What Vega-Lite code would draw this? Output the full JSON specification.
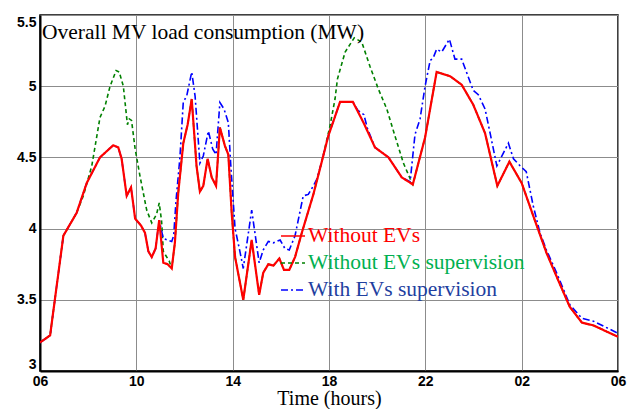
{
  "$schema": "https://vega.github.io/schema/vega-lite/v6.json",
  "width": 578,
  "height": 356,
  "autosize": {"type": "none"},
  "padding": {"left": 40, "top": 15, "right": 12, "bottom": 38},
  "background": "white",
  "config": {
    "view": {"stroke": "#000", "strokeWidth": 1.5},
    "axis": {
      "grid": true,
      "gridColor": "#8c8c8c",
      "gridWidth": 1,
      "domainColor": "#000",
      "domainWidth": 2,
      "ticks": false,
      "labelFont": "Liberation Sans Narrow, Liberation Sans",
      "labelFontWeight": "bold",
      "labelFontSize": 14,
      "labelColor": "#000"
    }
  },
  "title": {
    "text": "Overall MV load consumption (MW)",
    "anchor": "start",
    "frame": "group",
    "orient": "top",
    "offset": -28,
    "dx": 2,
    "font": "Liberation Serif",
    "fontSize": 21.5,
    "fontWeight": "normal",
    "color": "#000"
  },
  "datasets": {
    "red": [
      {"t": 6.0, "v": 3.20, "series": "Without EVs"},
      {"t": 6.42, "v": 3.25, "series": "Without EVs"},
      {"t": 6.97, "v": 3.95, "series": "Without EVs"},
      {"t": 7.52, "v": 4.11, "series": "Without EVs"},
      {"t": 7.94, "v": 4.32, "series": "Without EVs"},
      {"t": 8.49, "v": 4.50, "series": "Without EVs"},
      {"t": 9.04, "v": 4.585, "series": "Without EVs"},
      {"t": 9.25, "v": 4.57, "series": "Without EVs"},
      {"t": 9.39, "v": 4.49, "series": "Without EVs"},
      {"t": 9.6, "v": 4.23, "series": "Without EVs"},
      {"t": 9.78, "v": 4.29, "series": "Without EVs"},
      {"t": 9.95, "v": 4.07, "series": "Without EVs"},
      {"t": 10.2, "v": 4.02, "series": "Without EVs"},
      {"t": 10.36, "v": 3.97, "series": "Without EVs"},
      {"t": 10.5, "v": 3.84, "series": "Without EVs"},
      {"t": 10.64, "v": 3.80, "series": "Without EVs"},
      {"t": 10.8, "v": 3.86, "series": "Without EVs"},
      {"t": 10.95, "v": 4.06, "series": "Without EVs"},
      {"t": 11.12, "v": 3.76, "series": "Without EVs"},
      {"t": 11.3, "v": 3.75, "series": "Without EVs"},
      {"t": 11.47, "v": 3.72, "series": "Without EVs"},
      {"t": 11.6, "v": 3.90, "series": "Without EVs"},
      {"t": 11.74, "v": 4.25, "series": "Without EVs"},
      {"t": 11.95, "v": 4.60, "series": "Without EVs"},
      {"t": 12.13, "v": 4.73, "series": "Without EVs"},
      {"t": 12.3, "v": 4.91, "series": "Without EVs"},
      {"t": 12.5, "v": 4.44, "series": "Without EVs"},
      {"t": 12.64, "v": 4.26, "series": "Without EVs"},
      {"t": 12.78, "v": 4.30, "series": "Without EVs"},
      {"t": 12.96, "v": 4.49, "series": "Without EVs"},
      {"t": 13.13, "v": 4.36, "series": "Without EVs"},
      {"t": 13.31, "v": 4.30, "series": "Without EVs"},
      {"t": 13.47, "v": 4.71, "series": "Without EVs"},
      {"t": 13.68, "v": 4.58, "series": "Without EVs"},
      {"t": 13.82, "v": 4.52, "series": "Without EVs"},
      {"t": 13.96, "v": 4.11, "series": "Without EVs"},
      {"t": 14.1, "v": 3.80, "series": "Without EVs"},
      {"t": 14.44, "v": 3.50, "series": "Without EVs"},
      {"t": 14.79, "v": 3.92, "series": "Without EVs"},
      {"t": 15.1, "v": 3.535, "series": "Without EVs"},
      {"t": 15.27, "v": 3.69, "series": "Without EVs"},
      {"t": 15.48, "v": 3.75, "series": "Without EVs"},
      {"t": 15.69, "v": 3.74, "series": "Without EVs"},
      {"t": 15.94, "v": 3.79, "series": "Without EVs"},
      {"t": 16.13, "v": 3.71, "series": "Without EVs"},
      {"t": 16.35, "v": 3.71, "series": "Without EVs"},
      {"t": 16.59, "v": 3.80, "series": "Without EVs"},
      {"t": 16.87, "v": 3.97, "series": "Without EVs"},
      {"t": 17.35, "v": 4.24, "series": "Without EVs"},
      {"t": 17.7, "v": 4.47, "series": "Without EVs"},
      {"t": 17.97, "v": 4.65, "series": "Without EVs"},
      {"t": 18.46, "v": 4.89, "series": "Without EVs"},
      {"t": 18.99, "v": 4.89, "series": "Without EVs"},
      {"t": 19.43, "v": 4.745, "series": "Without EVs"},
      {"t": 19.91, "v": 4.57, "series": "Without EVs"},
      {"t": 20.47, "v": 4.50, "series": "Without EVs"},
      {"t": 21.02, "v": 4.36, "series": "Without EVs"},
      {"t": 21.48, "v": 4.31, "series": "Without EVs"},
      {"t": 21.99, "v": 4.64, "series": "Without EVs"},
      {"t": 22.47, "v": 5.10, "series": "Without EVs"},
      {"t": 23.03, "v": 5.07, "series": "Without EVs"},
      {"t": 23.51, "v": 5.01, "series": "Without EVs"},
      {"t": 23.99, "v": 4.87, "series": "Without EVs"},
      {"t": 24.48, "v": 4.67, "series": "Without EVs"},
      {"t": 24.99, "v": 4.30, "series": "Without EVs"},
      {"t": 25.49, "v": 4.47, "series": "Without EVs"},
      {"t": 26.0, "v": 4.32, "series": "Without EVs"},
      {"t": 26.48, "v": 4.09, "series": "Without EVs"},
      {"t": 27.03, "v": 3.83, "series": "Without EVs"},
      {"t": 27.51, "v": 3.64, "series": "Without EVs"},
      {"t": 28.0, "v": 3.45, "series": "Without EVs"},
      {"t": 28.5, "v": 3.34, "series": "Without EVs"},
      {"t": 28.98, "v": 3.32, "series": "Without EVs"},
      {"t": 30.0, "v": 3.24, "series": "Without EVs"}
    ],
    "green": [
      {"t": 6.0, "v": 3.20, "series": "Without EVs supervision"},
      {"t": 6.42, "v": 3.25, "series": "Without EVs supervision"},
      {"t": 6.97, "v": 3.95, "series": "Without EVs supervision"},
      {"t": 7.52, "v": 4.11, "series": "Without EVs supervision"},
      {"t": 7.8, "v": 4.23, "series": "Without EVs supervision"},
      {"t": 8.15, "v": 4.44, "series": "Without EVs supervision"},
      {"t": 8.49, "v": 4.78, "series": "Without EVs supervision"},
      {"t": 8.7, "v": 4.86, "series": "Without EVs supervision"},
      {"t": 8.91, "v": 5.00, "series": "Without EVs supervision"},
      {"t": 9.16, "v": 5.11, "series": "Without EVs supervision"},
      {"t": 9.29, "v": 5.10, "series": "Without EVs supervision"},
      {"t": 9.46, "v": 5.00, "series": "Without EVs supervision"},
      {"t": 9.63, "v": 4.73, "series": "Without EVs supervision"},
      {"t": 9.71, "v": 4.77, "series": "Without EVs supervision"},
      {"t": 9.8, "v": 4.76, "series": "Without EVs supervision"},
      {"t": 9.95, "v": 4.56, "series": "Without EVs supervision"},
      {"t": 10.15, "v": 4.37, "series": "Without EVs supervision"},
      {"t": 10.43, "v": 4.13, "series": "Without EVs supervision"},
      {"t": 10.64, "v": 4.04, "series": "Without EVs supervision"},
      {"t": 10.84, "v": 4.10, "series": "Without EVs supervision"},
      {"t": 10.95, "v": 4.18, "series": "Without EVs supervision"},
      {"t": 11.05, "v": 4.05, "series": "Without EVs supervision"},
      {"t": 11.12, "v": 3.84, "series": "Without EVs supervision"},
      {"t": 11.37, "v": 3.77, "series": "Without EVs supervision"},
      {"t": 11.47, "v": 3.72, "series": "Without EVs supervision"},
      {"t": 11.6, "v": 3.90, "series": "Without EVs supervision"},
      {"t": 11.74, "v": 4.25, "series": "Without EVs supervision"},
      {"t": 11.95, "v": 4.60, "series": "Without EVs supervision"},
      {"t": 12.13, "v": 4.73, "series": "Without EVs supervision"},
      {"t": 12.3, "v": 4.91, "series": "Without EVs supervision"},
      {"t": 12.5, "v": 4.44, "series": "Without EVs supervision"},
      {"t": 12.64, "v": 4.26, "series": "Without EVs supervision"},
      {"t": 12.78, "v": 4.30, "series": "Without EVs supervision"},
      {"t": 12.96, "v": 4.49, "series": "Without EVs supervision"},
      {"t": 13.13, "v": 4.36, "series": "Without EVs supervision"},
      {"t": 13.31, "v": 4.30, "series": "Without EVs supervision"},
      {"t": 13.47, "v": 4.71, "series": "Without EVs supervision"},
      {"t": 13.68, "v": 4.58, "series": "Without EVs supervision"},
      {"t": 13.82, "v": 4.52, "series": "Without EVs supervision"},
      {"t": 13.96, "v": 4.11, "series": "Without EVs supervision"},
      {"t": 14.1, "v": 3.80, "series": "Without EVs supervision"},
      {"t": 14.44, "v": 3.50, "series": "Without EVs supervision"},
      {"t": 14.79, "v": 3.92, "series": "Without EVs supervision"},
      {"t": 15.1, "v": 3.535, "series": "Without EVs supervision"},
      {"t": 15.27, "v": 3.69, "series": "Without EVs supervision"},
      {"t": 15.48, "v": 3.75, "series": "Without EVs supervision"},
      {"t": 15.69, "v": 3.74, "series": "Without EVs supervision"},
      {"t": 15.94, "v": 3.79, "series": "Without EVs supervision"},
      {"t": 16.13, "v": 3.71, "series": "Without EVs supervision"},
      {"t": 16.35, "v": 3.71, "series": "Without EVs supervision"},
      {"t": 16.59, "v": 3.80, "series": "Without EVs supervision"},
      {"t": 16.87, "v": 3.97, "series": "Without EVs supervision"},
      {"t": 17.35, "v": 4.24, "series": "Without EVs supervision"},
      {"t": 17.7, "v": 4.47, "series": "Without EVs supervision"},
      {"t": 18.04, "v": 4.72, "series": "Without EVs supervision"},
      {"t": 18.25, "v": 4.91, "series": "Without EVs supervision"},
      {"t": 18.35, "v": 5.05, "series": "Without EVs supervision"},
      {"t": 18.67, "v": 5.24, "series": "Without EVs supervision"},
      {"t": 19.05, "v": 5.34, "series": "Without EVs supervision"},
      {"t": 19.36, "v": 5.31, "series": "Without EVs supervision"},
      {"t": 19.7, "v": 5.14, "series": "Without EVs supervision"},
      {"t": 20.05, "v": 4.98, "series": "Without EVs supervision"},
      {"t": 20.4, "v": 4.84, "series": "Without EVs supervision"},
      {"t": 20.74, "v": 4.65, "series": "Without EVs supervision"},
      {"t": 21.09, "v": 4.46, "series": "Without EVs supervision"},
      {"t": 21.37, "v": 4.35, "series": "Without EVs supervision"},
      {"t": 21.48, "v": 4.31, "series": "Without EVs supervision"},
      {"t": 21.99, "v": 4.64, "series": "Without EVs supervision"},
      {"t": 22.47, "v": 5.10, "series": "Without EVs supervision"},
      {"t": 23.03, "v": 5.07, "series": "Without EVs supervision"},
      {"t": 23.51, "v": 5.01, "series": "Without EVs supervision"},
      {"t": 23.99, "v": 4.87, "series": "Without EVs supervision"},
      {"t": 24.48, "v": 4.67, "series": "Without EVs supervision"},
      {"t": 24.99, "v": 4.30, "series": "Without EVs supervision"},
      {"t": 25.49, "v": 4.47, "series": "Without EVs supervision"},
      {"t": 26.0, "v": 4.32, "series": "Without EVs supervision"},
      {"t": 26.48, "v": 4.09, "series": "Without EVs supervision"},
      {"t": 27.03, "v": 3.83, "series": "Without EVs supervision"},
      {"t": 27.51, "v": 3.64, "series": "Without EVs supervision"},
      {"t": 28.0, "v": 3.45, "series": "Without EVs supervision"},
      {"t": 28.5, "v": 3.34, "series": "Without EVs supervision"},
      {"t": 28.98, "v": 3.32, "series": "Without EVs supervision"},
      {"t": 30.0, "v": 3.24, "series": "Without EVs supervision"}
    ],
    "blue": [
      {"t": 6.0, "v": 3.20, "series": "With EVs supervision"},
      {"t": 6.42, "v": 3.25, "series": "With EVs supervision"},
      {"t": 6.97, "v": 3.95, "series": "With EVs supervision"},
      {"t": 7.52, "v": 4.11, "series": "With EVs supervision"},
      {"t": 7.94, "v": 4.32, "series": "With EVs supervision"},
      {"t": 8.49, "v": 4.50, "series": "With EVs supervision"},
      {"t": 9.04, "v": 4.585, "series": "With EVs supervision"},
      {"t": 9.25, "v": 4.57, "series": "With EVs supervision"},
      {"t": 9.39, "v": 4.49, "series": "With EVs supervision"},
      {"t": 9.6, "v": 4.23, "series": "With EVs supervision"},
      {"t": 9.78, "v": 4.29, "series": "With EVs supervision"},
      {"t": 9.95, "v": 4.07, "series": "With EVs supervision"},
      {"t": 10.2, "v": 4.02, "series": "With EVs supervision"},
      {"t": 10.36, "v": 3.97, "series": "With EVs supervision"},
      {"t": 10.5, "v": 3.84, "series": "With EVs supervision"},
      {"t": 10.64, "v": 3.80, "series": "With EVs supervision"},
      {"t": 10.8, "v": 3.86, "series": "With EVs supervision"},
      {"t": 10.95, "v": 4.06, "series": "With EVs supervision"},
      {"t": 11.12, "v": 3.93, "series": "With EVs supervision"},
      {"t": 11.29, "v": 3.92, "series": "With EVs supervision"},
      {"t": 11.47, "v": 3.91, "series": "With EVs supervision"},
      {"t": 11.55, "v": 3.95, "series": "With EVs supervision"},
      {"t": 11.65, "v": 4.20, "series": "With EVs supervision"},
      {"t": 11.81, "v": 4.50, "series": "With EVs supervision"},
      {"t": 11.95, "v": 4.89, "series": "With EVs supervision"},
      {"t": 12.09, "v": 4.93, "series": "With EVs supervision"},
      {"t": 12.3, "v": 5.10, "series": "With EVs supervision"},
      {"t": 12.44, "v": 4.93, "series": "With EVs supervision"},
      {"t": 12.64, "v": 4.46, "series": "With EVs supervision"},
      {"t": 12.78, "v": 4.51, "series": "With EVs supervision"},
      {"t": 12.99, "v": 4.685, "series": "With EVs supervision"},
      {"t": 13.17, "v": 4.56, "series": "With EVs supervision"},
      {"t": 13.31, "v": 4.52, "series": "With EVs supervision"},
      {"t": 13.47, "v": 4.885, "series": "With EVs supervision"},
      {"t": 13.64, "v": 4.84, "series": "With EVs supervision"},
      {"t": 13.82, "v": 4.745, "series": "With EVs supervision"},
      {"t": 13.92, "v": 4.45, "series": "With EVs supervision"},
      {"t": 14.1, "v": 4.00, "series": "With EVs supervision"},
      {"t": 14.3, "v": 3.84, "series": "With EVs supervision"},
      {"t": 14.44, "v": 3.72, "series": "With EVs supervision"},
      {"t": 14.79, "v": 4.13, "series": "With EVs supervision"},
      {"t": 15.1, "v": 3.76, "series": "With EVs supervision"},
      {"t": 15.27, "v": 3.85, "series": "With EVs supervision"},
      {"t": 15.48, "v": 3.91, "series": "With EVs supervision"},
      {"t": 15.69, "v": 3.90, "series": "With EVs supervision"},
      {"t": 15.97, "v": 3.92, "series": "With EVs supervision"},
      {"t": 16.17, "v": 3.86, "series": "With EVs supervision"},
      {"t": 16.35, "v": 3.85, "series": "With EVs supervision"},
      {"t": 16.59, "v": 3.95, "series": "With EVs supervision"},
      {"t": 16.93, "v": 4.23, "series": "With EVs supervision"},
      {"t": 17.14, "v": 4.24, "series": "With EVs supervision"},
      {"t": 17.35, "v": 4.30, "series": "With EVs supervision"},
      {"t": 17.5, "v": 4.35, "series": "With EVs supervision"},
      {"t": 17.7, "v": 4.47, "series": "With EVs supervision"},
      {"t": 17.97, "v": 4.65, "series": "With EVs supervision"},
      {"t": 18.46, "v": 4.89, "series": "With EVs supervision"},
      {"t": 18.99, "v": 4.89, "series": "With EVs supervision"},
      {"t": 19.2, "v": 4.83, "series": "With EVs supervision"},
      {"t": 19.45, "v": 4.80, "series": "With EVs supervision"},
      {"t": 19.6, "v": 4.70, "series": "With EVs supervision"},
      {"t": 19.91, "v": 4.57, "series": "With EVs supervision"},
      {"t": 20.47, "v": 4.50, "series": "With EVs supervision"},
      {"t": 21.02, "v": 4.36, "series": "With EVs supervision"},
      {"t": 21.37, "v": 4.33, "series": "With EVs supervision"},
      {"t": 21.57, "v": 4.66, "series": "With EVs supervision"},
      {"t": 21.78, "v": 4.77, "series": "With EVs supervision"},
      {"t": 21.99, "v": 5.00, "series": "With EVs supervision"},
      {"t": 22.2, "v": 5.18, "series": "With EVs supervision"},
      {"t": 22.33, "v": 5.20, "series": "With EVs supervision"},
      {"t": 22.47, "v": 5.26, "series": "With EVs supervision"},
      {"t": 22.68, "v": 5.24, "series": "With EVs supervision"},
      {"t": 23.0, "v": 5.33, "series": "With EVs supervision"},
      {"t": 23.23, "v": 5.19, "series": "With EVs supervision"},
      {"t": 23.51, "v": 5.19, "series": "With EVs supervision"},
      {"t": 23.99, "v": 4.97, "series": "With EVs supervision"},
      {"t": 24.2, "v": 4.94, "series": "With EVs supervision"},
      {"t": 24.48, "v": 4.84, "series": "With EVs supervision"},
      {"t": 24.69, "v": 4.67, "series": "With EVs supervision"},
      {"t": 24.97, "v": 4.44, "series": "With EVs supervision"},
      {"t": 25.45, "v": 4.60, "series": "With EVs supervision"},
      {"t": 25.66, "v": 4.49, "series": "With EVs supervision"},
      {"t": 25.94, "v": 4.44, "series": "With EVs supervision"},
      {"t": 26.19, "v": 4.40, "series": "With EVs supervision"},
      {"t": 26.48, "v": 4.16, "series": "With EVs supervision"},
      {"t": 26.76, "v": 3.97, "series": "With EVs supervision"},
      {"t": 27.03, "v": 3.85, "series": "With EVs supervision"},
      {"t": 27.45, "v": 3.69, "series": "With EVs supervision"},
      {"t": 28.0, "v": 3.465, "series": "With EVs supervision"},
      {"t": 28.5, "v": 3.37, "series": "With EVs supervision"},
      {"t": 28.98, "v": 3.35, "series": "With EVs supervision"},
      {"t": 30.0, "v": 3.265, "series": "With EVs supervision"}
    ]
  },
  "encoding": {
    "x": {
      "field": "t",
      "type": "quantitative",
      "scale": {"domain": [6, 30], "nice": false, "zero": false},
      "axis": {
        "values": [6, 10, 14, 18, 22, 26, 30],
        "labelExpr": "(datum.value % 24) < 10 ? '0' + (datum.value % 24) : '' + (datum.value % 24)",
        "labelFlush": false,
        "labelPadding": 3,
        "title": "Time (hours)",
        "titleFont": "Liberation Serif",
        "titleFontSize": 20,
        "titleFontWeight": "normal",
        "titleColor": "#000",
        "titlePadding": 0
      }
    },
    "y": {
      "field": "v",
      "type": "quantitative",
      "scale": {"domain": [3, 5.5], "nice": false, "zero": false},
      "axis": {
        "values": [3, 3.5, 4, 4.5, 5, 5.5],
        "format": "~g",
        "labelPadding": 4,
        "labelFlush": true,
        "labelFlushOffset": 0,
        "title": null
      }
    },
    "color": {
      "field": "series",
      "type": "nominal",
      "scale": {
        "domain": ["Without EVs", "Without EVs supervision", "With EVs supervision"],
        "range": ["#ff0000", "#008000", "#0000ff"]
      },
      "legend": {
        "orient": "none",
        "legendX": 240,
        "legendY": 208,
        "title": null,
        "symbolType": "stroke",
        "symbolSize": 576,
        "symbolStrokeWidth": 1.5,
        "labelFont": "Liberation Serif",
        "labelFontSize": 21.5,
        "labelOffset": 2,
        "labelLimit": 400,
        "rowPadding": 3,
        "encode": {
          "labels": {
            "update": {
              "fill": {"signal": "datum.label === 'Without EVs' ? '#ff0000' : datum.label === 'Without EVs supervision' ? '#00b050' : '#1f3f9f'"}
            }
          }
        }
      }
    },
    "strokeDash": {
      "field": "series",
      "type": "nominal",
      "scale": {
        "domain": ["Without EVs", "Without EVs supervision", "With EVs supervision"],
        "range": [[1, 0], [4, 3], [7, 3, 2, 3]]
      },
      "legend": {
        "orient": "none",
        "legendX": 240,
        "legendY": 208,
        "title": null,
        "symbolType": "stroke",
        "symbolSize": 576,
        "symbolStrokeWidth": 1.5,
        "labelFont": "Liberation Serif",
        "labelFontSize": 21.5,
        "labelOffset": 2,
        "labelLimit": 400,
        "rowPadding": 3,
        "encode": {
          "labels": {
            "update": {
              "fill": {"signal": "datum.label === 'Without EVs' ? '#ff0000' : datum.label === 'Without EVs supervision' ? '#00b050' : '#1f3f9f'"}
            }
          }
        }
      }
    }
  },
  "layer": [
    {"data": {"name": "green"}, "mark": {"type": "line", "strokeWidth": 1.6, "clip": true}},
    {"data": {"name": "blue"}, "mark": {"type": "line", "strokeWidth": 1.6, "clip": true}},
    {"data": {"name": "red"}, "mark": {"type": "line", "strokeWidth": 2.2, "clip": true}}
  ]
}
